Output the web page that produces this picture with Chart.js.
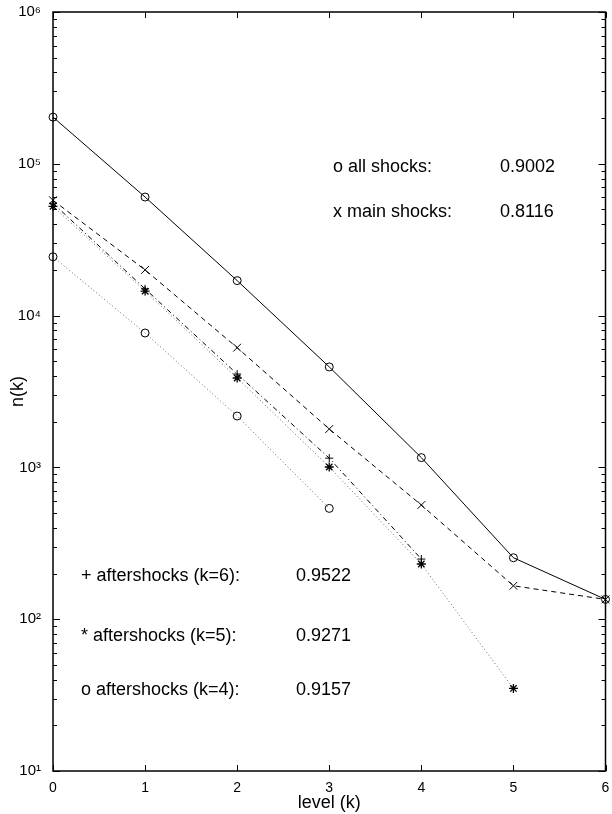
<!DOCTYPE html>
<html>
<head>
<meta charset="utf-8">
<script src="https://cdn.jsdelivr.net/npm/chart.js@4.4.0/dist/chart.umd.min.js"></script>
<style>
  html, body { margin: 0; padding: 0; background: #fff; }
  canvas { display: block; }
</style>
</head>
<body>
<canvas id="levelChart" width="612" height="814"></canvas>
<script>
// ==== DATA ====
const levels = [0, 1, 2, 3, 4, 5, 6];
const allShocks = [203000, 60400, 17000, 4590, 1160, 254, 135];
const mainShocks = [57500, 20000, 6150, 1790, 565, 166, 135];
const after6 = [55000, 15000, 4120, 1150, 249];        // levels 0..4
const after5 = [52500, 14500, 3880, 1006, 231, 35];    // levels 0..5
const after4 = [24400, 7680, 2180, 537];               // levels 0..3

const yTicks = [10, 100, 1000, 10000, 100000, 1000000];
const fitLabels = ['o all shocks:', 'x main shocks:', '+ aftershocks (k=6):', '* aftershocks (k=5):', 'o aftershocks (k=4):'];
const fitValues = ['0.9002', '0.8116', '0.9522', '0.9271', '0.9157'];

const FONT = "'Liberation Sans', Arial, Helvetica, sans-serif";
Chart.defaults.font.family = FONT;
Chart.defaults.color = '#000';

function toPoints(vals) {
  return vals.map((v, i) => ({ x: levels[i], y: v }));
}

const sup = { '0': '⁰', '1': '¹', '2': '²', '3': '³', '4': '⁴', '5': '⁵', '6': '⁶', '7': '⁷', '8': '⁸', '9': '⁹' };
function powLabel(v) {
  const l = Math.log10(v);
  if (Math.abs(l - Math.round(l)) > 1e-9) return '';
  return '10' + String(Math.round(l)).split('').map(c => sup[c]).join('');
}

// ==== FRAME, INWARD TICKS, TEXT ====
const framePlugin = {
  id: 'frame',
  afterDraw(chart) {
    const { ctx, chartArea: a, scales } = chart;
    ctx.save();
    ctx.strokeStyle = '#000';
    ctx.lineWidth = 1;
    ctx.setLineDash([]);

    // y ticks (major + minor) left and right
    const ys = scales.y;
    ctx.beginPath();
    for (let d = 1; d <= 6; d++) {
      for (let m = 1; m <= 9; m++) {
        const v = m * Math.pow(10, d);
        if (v > 1e6) break;
        const py = Math.round(ys.getPixelForValue(v)) + 0.5;
        const len = m === 1 ? 7 : 4;
        ctx.moveTo(a.left, py); ctx.lineTo(a.left + len, py);
        ctx.moveTo(a.right, py); ctx.lineTo(a.right - len, py);
      }
    }
    // x ticks bottom and top
    const xs = scales.x;
    levels.forEach(k => {
      const px = Math.round(xs.getPixelForValue(k)) + 0.5;
      ctx.moveTo(px, a.bottom); ctx.lineTo(px, a.bottom - 6);
      ctx.moveTo(px, a.top); ctx.lineTo(px, a.top + 6);
    });
    ctx.stroke();

    // box
    ctx.lineWidth = 1.5;
    ctx.strokeRect(a.left, a.top, a.right - a.left, a.bottom - a.top);

    // fit annotations
    ctx.fillStyle = '#000';
    ctx.font = '18px ' + FONT;
    ctx.textAlign = 'left';
    ctx.textBaseline = 'alphabetic';
    const rows = [
      [333, 500, 172], [333, 500, 217],
      [81, 296, 581], [81, 296, 641], [81, 296, 695]
    ];
    rows.forEach((r, i) => {
      ctx.fillText(fitLabels[i], r[0], r[2]);
      ctx.fillText(fitValues[i], r[1], r[2]);
    });
    ctx.restore();
  }
};

// ==== CHART ====
const common = {
  borderColor: '#000',
  borderWidth: 1,
  pointBorderColor: '#000',
  pointBackgroundColor: 'rgba(0,0,0,0)',
  pointBorderWidth: 1,
  fill: false,
  tension: 0,
  clip: false
};

const chart = new Chart(document.getElementById('levelChart').getContext('2d'), {
  type: 'line',
  data: {
    datasets: [
      { ...common, label: 'all shocks', data: toPoints(allShocks), pointStyle: 'circle', pointRadius: 4 },
      { ...common, label: 'main shocks', data: toPoints(mainShocks), borderDash: [5, 4], pointStyle: 'crossRot', pointRadius: 5.5 },
      { ...common, label: 'aftershocks (k=6)', data: toPoints(after6), borderDash: [5, 3, 1, 3], pointStyle: 'cross', pointRadius: 4 },
      { ...common, label: 'aftershocks (k=5)', data: toPoints(after5), borderColor: '#666', borderDash: [1, 2.5], pointStyle: 'star', pointRadius: 4.5, pointBorderWidth: 1.3 },
      { ...common, label: 'aftershocks (k=4)', data: toPoints(after4), borderColor: '#666', borderDash: [1, 2.5], pointStyle: 'circle', pointRadius: 4 }
    ]
  },
  options: {
    responsive: false,
    animation: false,
    layout: { padding: { top: 12, right: 2, left: 0, bottom: 0 } },
    plugins: { legend: { display: false }, tooltip: { enabled: false } },
    scales: {
      x: {
        type: 'linear',
        min: 0,
        max: 6,
        grid: { display: false },
        border: { display: false },
        ticks: { stepSize: 1, padding: 1, font: { size: 14 }, color: '#000' },
        title: { display: true, text: 'level (k)', color: '#000', font: { size: 18 }, padding: { top: 0, bottom: 0 } },
        afterFit(s) { s.height = 43; s.paddingLeft = 0; s.paddingRight = 0; }
      },
      y: {
        type: 'logarithmic',
        min: 10,
        max: 1000000,
        grid: { display: false },
        border: { display: false },
        afterBuildTicks(s) { s.ticks = yTicks.map(v => ({ value: v })); },
        ticks: { autoSkip: false, padding: 4, font: { size: 15 }, color: '#000', callback: v => powLabel(v) },
        title: { display: true, text: 'n(k)', color: '#000', font: { size: 18 }, padding: { top: 7, bottom: 0 } },
        afterFit(s) { s.width = 53; s.paddingTop = 0; s.paddingBottom = 0; }
      }
    }
  },
  plugins: [framePlugin]
});
</script>
</body>
</html>
